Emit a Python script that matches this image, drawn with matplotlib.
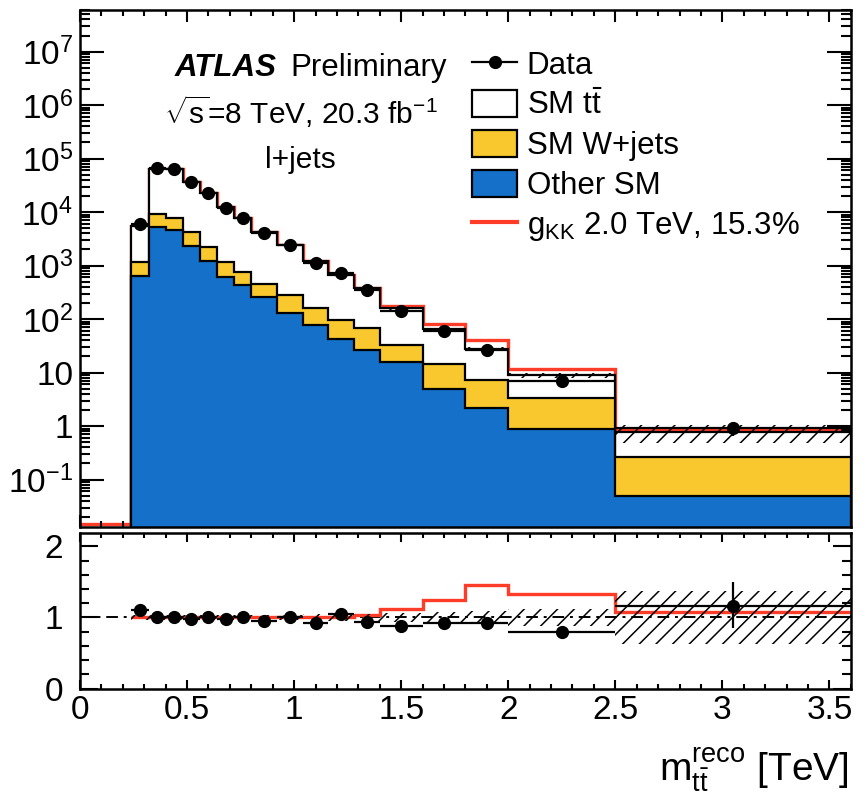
import numpy as np
import matplotlib
matplotlib.use("Agg")
import matplotlib.pyplot as plt
from matplotlib.ticker import FuncFormatter, FixedLocator, LogLocator, MultipleLocator
from matplotlib.patches import Patch
from matplotlib.lines import Line2D

plt.rcParams['font.family'] = ['Liberation Sans', 'DejaVu Sans']
plt.rcParams['mathtext.fontset'] = 'custom'
plt.rcParams['mathtext.rm'] = 'Liberation Sans'
plt.rcParams['mathtext.it'] = 'Liberation Sans:italic'
plt.rcParams['mathtext.bf'] = 'Liberation Sans:bold'
plt.rcParams['hatch.linewidth'] = 1.1

# m_tt reco bins [TeV]
edges = np.array([0.0, 0.08, 0.16, 0.24, 0.32, 0.40, 0.48, 0.56, 0.64, 0.72, 0.80,
                  0.92, 1.04, 1.16, 1.28, 1.40, 1.60, 1.80, 2.00, 2.50, 3.60])

# background components per bin
other_sm = np.array([0, 0, 0, 635, 5300, 4600, 2330, 1230, 620, 430, 260,
                     130, 77, 43, 26, 15.8, 5.0, 2.2, 0.89, 0.050])
wjets = np.array([0, 0, 0, 545, 3800, 3300, 1970, 970, 560, 340, 200,
                  150, 81, 52, 41, 17.2, 9.3, 5.2, 2.5, 0.21])
ttbar = np.array([0, 0, 0, 4320, 55900, 56100, 32700, 20300, 11120, 6930, 3840,
                  2120, 1072, 585, 308, 125, 49.7, 20.8, 5.5, 0.52])

# g_KK 2.0 TeV signal added on top of the SM
gkk = np.array([0, 0, 0, 0, 0, 0, 0, 0, 0, 0, 0,
                0, 0, 0, 11, 19, 16, 13, 2.9, 0.065])

# data
data = np.array([0, 0, 0, 6050, 65700, 64000, 36300, 22500, 12100, 7700, 4100,
                 2420, 1130, 714, 352, 140, 58.9, 25.9, 7.1, 0.905])
data_err_dn = np.array([0, 0, 0, 60, 250, 250, 180, 130, 90, 70, 50,
                        35, 25, 18, 12, 6, 3, 1.2, 0.35, 0.24])
data_err_up = np.array([0, 0, 0, 60, 250, 250, 180, 130, 90, 70, 50,
                        35, 25, 18, 12, 6, 3, 1.2, 0.35, 0.27])

# relative uncertainty on the SM prediction
syst = np.array([0, 0, 0, 0.04, 0.03, 0.03, 0.03, 0.03, 0.03, 0.03, 0.035,
                 0.04, 0.045, 0.05, 0.055, 0.06, 0.08, 0.09, 0.12, 0.37])

c_blue = '#1470c8'
c_yellow = '#f8c82e'
c_red = '#ff3c28'
ymin, ymax = 0.013, 6e7

total = other_sm + wjets + ttbar
centers = 0.5 * (edges[1:] + edges[:-1])
halfw = 0.5 * np.diff(edges)
first = int(np.argmax(total > 0))
e = edges[first:]
has = data > 0

fig = plt.figure(figsize=(8.68, 7.98), dpi=100)
ax = fig.add_axes([0.0922, 0.3396, 0.888, 0.6479])
rax = fig.add_axes([0.0922, 0.1372, 0.888, 0.1949])

# signal + background, empty bins sit on the frame floor
sig_line = np.where(total > 0, total + gkk, ymin * 1.12)
ax.stairs(sig_line, edges, baseline=None, color=c_red, lw=2.4, zorder=1.5)

# stacked SM
for vals, col in [(total, 'white'), (other_sm + wjets, c_yellow), (other_sm, c_blue)]:
    ax.stairs(vals[first:], e, baseline=1e-4, fill=True, facecolor=col,
              edgecolor='black', linewidth=1.6, zorder=2)

ax.stairs(total[first:] * (1 + syst[first:]), e, baseline=total[first:] * (1 - syst[first:]),
          fill=True, facecolor='none', edgecolor='black', hatch='//', linewidth=0, zorder=3)

ax.errorbar(centers[has], data[has], xerr=halfw[has],
            yerr=[data_err_dn[has], data_err_up[has]], fmt='o', color='black',
            ms=8.5, elinewidth=1.6, capsize=0, zorder=5)

ax.set_yscale('log')
ax.set_xlim(0, 3.6)
ax.set_ylim(ymin, ymax)


def log_label(v, pos):
    n = int(round(np.log10(v)))
    if n == 0:
        return '1'
    if n == 1:
        return '10'
    return r'$\mathregular{10^{%d}}$' % n


ax.yaxis.set_major_locator(FixedLocator(10.0 ** np.arange(-1, 8)))
ax.yaxis.set_minor_locator(LogLocator(base=10, subs=np.arange(2, 10), numticks=20))
ax.yaxis.set_major_formatter(FuncFormatter(log_label))
ax.xaxis.set_major_locator(MultipleLocator(0.5))
ax.xaxis.set_minor_locator(MultipleLocator(0.1))
ax.tick_params(which='both', direction='in', top=True, right=True, labelbottom=False, width=1.5)
ax.tick_params(axis='y', which='major', length=17, labelsize=24, pad=5)
ax.tick_params(axis='y', which='minor', length=7)
ax.tick_params(axis='x', which='major', length=8.6)
ax.tick_params(axis='x', which='minor', length=4.3)

# ratio to SM
ratio_sig = (total[first:] + gkk[first:]) / total[first:]
rax.axhline(1, color='black', ls=(0, (6, 3, 1.5, 3)), lw=1.4, zorder=1)
rax.stairs(ratio_sig, e, baseline=None, color=c_red, lw=2.4, zorder=2)
rax.stairs(1 + syst[first:], e, baseline=1 - syst[first:], fill=True, facecolor='none',
           edgecolor='black', hatch='//', linewidth=0, zorder=3)
rax.errorbar(centers[has], data[has] / total[has], xerr=halfw[has],
             yerr=[data_err_dn[has] / total[has], data_err_up[has] / total[has]],
             fmt='o', color='black', ms=8.5, elinewidth=1.6, capsize=0, zorder=5)
rax.set_xlim(0, 3.6)
rax.set_ylim(0, 2.19)
rax.yaxis.set_major_locator(FixedLocator([0, 1, 2]))
rax.yaxis.set_minor_locator(MultipleLocator(0.2))
rax.xaxis.set_major_locator(MultipleLocator(0.5))
rax.xaxis.set_minor_locator(MultipleLocator(0.1))
rax.xaxis.set_major_formatter(FuncFormatter(lambda v, p: f'{v:g}'))
rax.yaxis.set_major_formatter(FuncFormatter(lambda v, p: f'{v:g}'))
rax.tick_params(which='both', direction='in', top=True, right=True, width=1.5, labelsize=24)
rax.tick_params(axis='y', which='major', length=13, pad=12)
rax.tick_params(axis='y', which='minor', length=6.5)
rax.tick_params(axis='x', which='major', length=6.5, pad=5)
rax.tick_params(axis='x', which='minor', length=3.6)

for a in (ax, rax):
    for s in a.spines.values():
        s.set_linewidth(1.8)

# labels
W, H = 868.0, 798.0
fig.text(175 / W, 1 - 68 / H, 'ATLAS', fontsize=22.5, fontweight='bold', fontstyle='italic', va='center')
fig.text(290 / W, 1 - 68 / H, 'Preliminary', fontsize=22.5, va='center')
fig.text(301 / W, 1 - 112 / H, r'$\sqrt{\mathregular{s}}$=8 TeV, 20.3 fb$^{\mathregular{-1}}$',
         fontsize=21.5, ha='center', va='center')
fig.text(300 / W, 1 - 160 / H, 'l+jets', fontsize=21.5, ha='center', va='center')
fig.text(849 / W, 1 - 770 / H, r'$\mathregular{m_{t\bar{t}}^{reco}}$ [TeV]', fontsize=28,
         ha='right', va='center')

handles = [
    Line2D([], [], color='black', marker='o', ms=8.5, lw=1.6),
    Patch(facecolor='white', edgecolor='black', linewidth=1.6),
    Patch(facecolor=c_yellow, edgecolor='black', linewidth=1.6),
    Patch(facecolor=c_blue, edgecolor='black', linewidth=1.6),
    Line2D([], [], color=c_red, lw=3),
]
labels = ['Data', r'SM $\mathregular{t\bar{t}}$', 'SM W+jets', 'Other SM',
          r'$\mathregular{g_{KK}}$ 2.0 TeV, 15.3%']
fig.legend(handles, labels, loc='upper left', bbox_to_anchor=(472 / W, 1 - 50 / H),
           frameon=False, fontsize=22.5, handlelength=1.45, handleheight=0.95,
           handletextpad=0.3, labelspacing=0.28, borderpad=0, borderaxespad=0)

fig.savefig('out.png', dpi=100)
